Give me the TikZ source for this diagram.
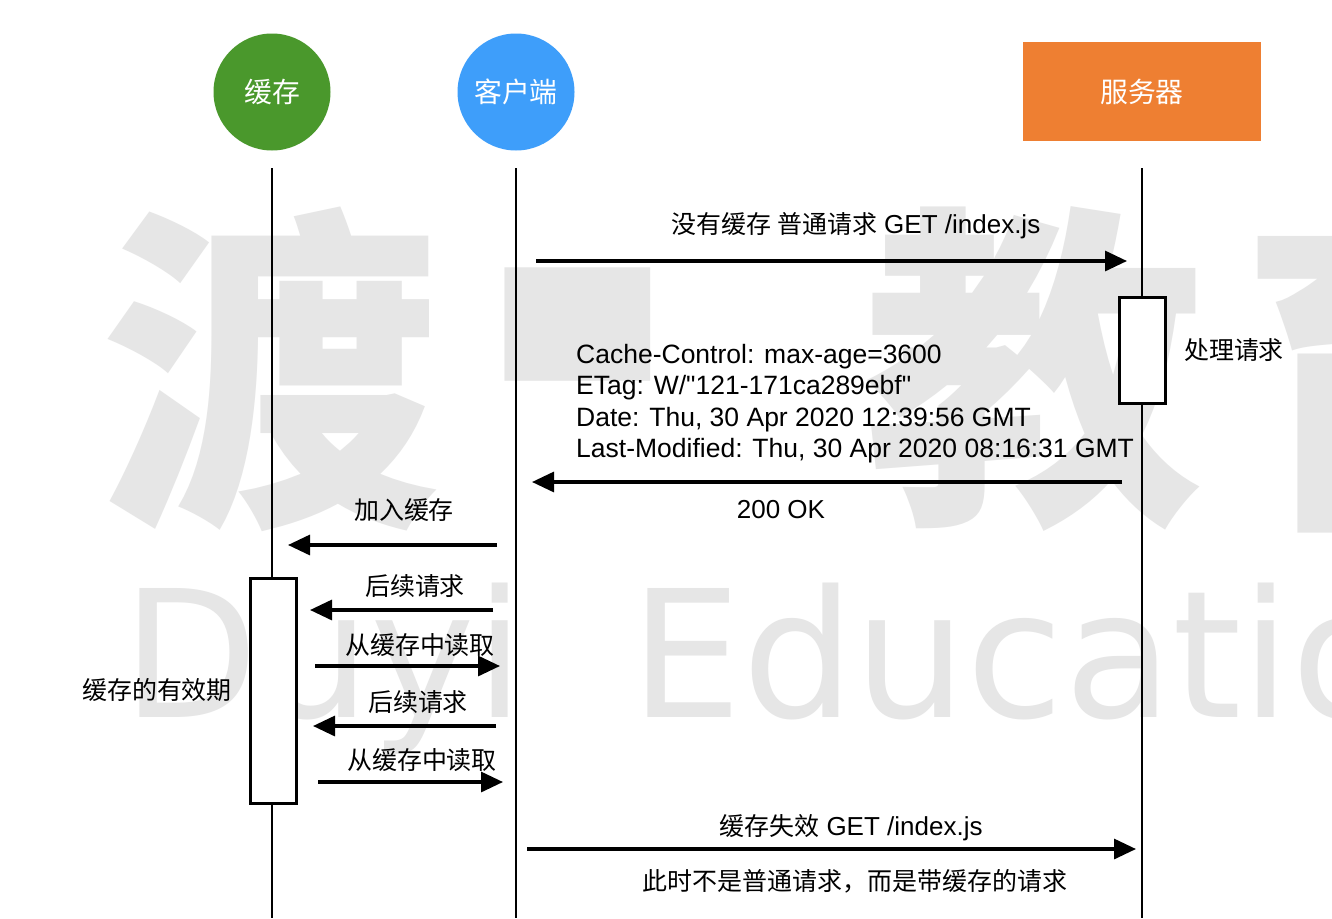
\documentclass[tikz,border=0pt]{standalone}
\usepackage{fontspec}
\setmainfont{Liberation Sans}
\newfontfamily\cjk{Noto Sans CJK SC}[Scale=0.96]
\newfontfamily\wmfont{DejaVu Sans}
\usetikzlibrary{arrows.meta}
\definecolor{cachegreen}{RGB}{74,152,44}
\definecolor{clientblue}{RGB}{62,158,250}
\definecolor{serverorange}{RGB}{238,127,50}
\definecolor{wmgray}{RGB}{230,230,230}
\tikzset{
  actor/.style={circle, minimum size=117pt, inner sep=0pt, text=white,
    font=\cjk\fontsize{29}{29}\selectfont},
  life/.style={line width=2pt},
  act/.style={draw, line width=3pt, fill=white, minimum width=46pt, inner sep=0pt},
  msg/.style={line width=3.2pt, -{Triangle[length=22pt,width=20pt]}},
  lbl/.style={inner sep=0pt, font=\fontsize{26}{26}\selectfont},
  hdr/.style={inner sep=0pt, anchor=west, font=\fontsize{26.5}{26.5}\selectfont},
  wmark/.style={inner sep=0pt, text=wmgray}
}

\begin{document}
\begin{tikzpicture}[x=1pt,y=-1pt]
\useasboundingbox (0,0) rectangle (1332,918);
\fill[white] (0,0) rectangle (1332,918);
\clip (0,0) rectangle (1332,918);

% watermark
\node[wmark, font=\cjk\bfseries\fontsize{354}{354}\selectfont] (wm1) at (270,369) {渡};
\node[wmark, font=\cjk\bfseries\fontsize{354}{354}\selectfont,
  xscale=0.46, yscale=2.1, transform shape] (wm2) at (578,435) {一};
\node[wmark, font=\cjk\bfseries\fontsize{354}{354}\selectfont] (wm3) at (1034,369) {教};
\node[wmark, font=\cjk\bfseries\fontsize{354}{354}\selectfont] (wm4) at (1410,369) {育};
\node[wmark, anchor=base west, font=\wmfont\fontsize{177}{177}\selectfont] (wm5) at (122,717) {Duyi};
\node[wmark, anchor=base west, font=\wmfont\fontsize{177}{177}\selectfont] (wm6) at (630,717) {Education};

% actors
\node[actor, fill=cachegreen] (cache) at (272,92) {缓存};
\node[actor, fill=clientblue] (client) at (516,92) {客户端};
\node[fill=serverorange, minimum width=238pt, minimum height=99pt, inner sep=0pt,
  text=white, font=\cjk\fontsize{29}{29}\selectfont] (server) at (1142,91.5) {服务器};

% lifelines
\coordinate (cacheTop) at (272,168);
\coordinate (cacheBot) at (272,918);
\coordinate (clientTop) at (516,168);
\coordinate (clientBot) at (516,918);
\coordinate (serverTop) at (1142,168);
\coordinate (serverBot) at (1142,918);
\draw[life] (cacheTop) -- (cacheBot);
\draw[life] (clientTop) -- (clientBot);
\draw[life] (serverTop) -- (serverBot);

% activations
\node[act, minimum height=106pt] (work) at (1142,350) {};
\node[act, minimum height=225pt] (valid) at (273,690.5) {};
\node[lbl, font=\cjk\fontsize{26}{26}\selectfont] (workL) at (1234,350) {处理请求};
\node[lbl, font=\cjk\fontsize{26}{26}\selectfont] (validL) at (157,690) {缓存的有效期};

% messages
\coordinate (m1s) at (536,261);  \coordinate (m1e) at (1127,261);
\coordinate (m2s) at (1122,482); \coordinate (m2e) at (532,482);
\coordinate (m3s) at (497,545);  \coordinate (m3e) at (288,545);
\coordinate (m4s) at (493,610);  \coordinate (m4e) at (310,610);
\coordinate (m5s) at (315,666);  \coordinate (m5e) at (500,666);
\coordinate (m6s) at (496,726);  \coordinate (m6e) at (313,726);
\coordinate (m7s) at (318,782);  \coordinate (m7e) at (503,782);
\coordinate (m8s) at (527,849);  \coordinate (m8e) at (1136,849);
\path[msg]
(m1s) edge (m1e)
(m2s) edge (m2e)
(m3s) edge (m3e)
(m4s) edge (m4e)
(m5s) edge (m5e)
(m6s) edge (m6e)
(m7s) edge (m7e)
(m8s) edge (m8e);

% labels
\node[lbl] (l1) at (856,226) {{\cjk 没有缓存 普通请求} GET /index.js};
\node[hdr] (h1) at (576,357) {Cache-Control: max-age=3600};
\node[hdr] (h2) at (576,388) {ETag: W/\textquotedbl 121-171ca289ebf\textquotedbl};
\node[hdr] (h3) at (576,420) {Date: Thu, 30 Apr 2020 12:39:56 GMT};
\node[hdr] (h4) at (576,451) {Last-Modified: Thu, 30 Apr 2020 08:16:31 GMT};
\node[lbl] (l2) at (781,510) {200 OK};
\node[lbl, font=\cjk\fontsize{26}{26}\selectfont] (l3) at (404,510) {加入缓存};
\node[lbl, font=\cjk\fontsize{26}{26}\selectfont] (l4) at (415,586) {后续请求};
\node[lbl, font=\cjk\fontsize{26}{26}\selectfont] (l5) at (420,645) {从缓存中读取};
\node[lbl, font=\cjk\fontsize{26}{26}\selectfont] (l6) at (418,702) {后续请求};
\node[lbl, font=\cjk\fontsize{26}{26}\selectfont] (l7) at (422,760) {从缓存中读取};
\node[lbl] (l8) at (851,828) {{\cjk 缓存失效} GET /index.js};
\node[lbl, font=\cjk\fontsize{26}{26}\selectfont] (l9) at (855,881) {此时不是普通请求，而是带缓存的请求};
\end{tikzpicture}
\end{document}
